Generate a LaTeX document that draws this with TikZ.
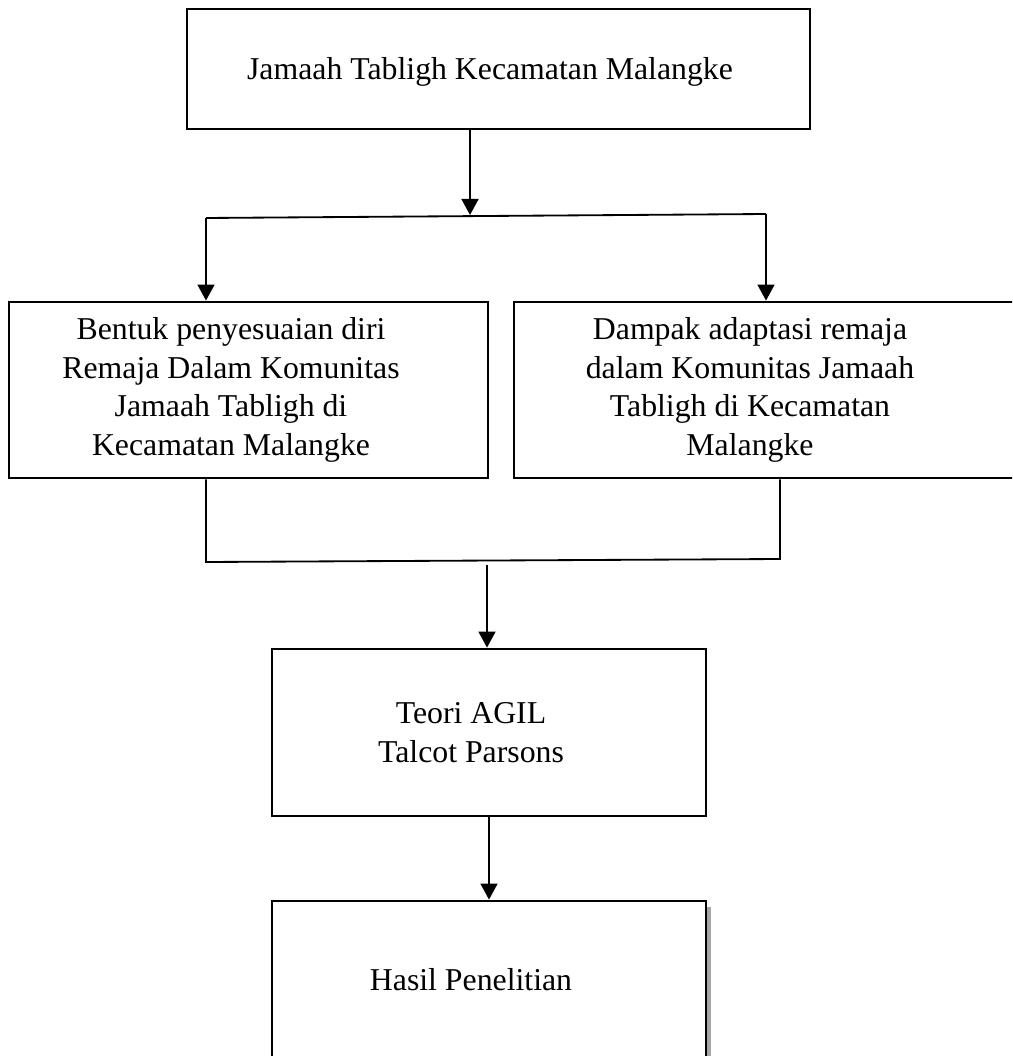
\documentclass[tikz,border=0pt]{standalone}
\usepackage{fontspec}
\setmainfont{Liberation Serif}
\usetikzlibrary{arrows.meta,shadows}

\begin{document}
\begin{tikzpicture}[x=0.025cm, y=-0.025cm,
    font=\fontsize{22.6}{27.5}\selectfont,
    box/.style={draw, line width=2pt, inner sep=0pt, fill=white},
    txt/.style={align=center},
    arr/.style={line width=1.6pt, -{Triangle[width=0.42cm, length=0.4cm]}},
    link/.style={line width=1.3pt}]
    % page of 1012 x 1056 px, 1px = 0.025cm
    \def\s{0.025cm}
    \useasboundingbox (0,0) rectangle (1012,1056);
    \clip (0,0) rectangle (1012,1056);

    % top box
    \node[box, minimum width=623*\s, minimum height=120*\s,
        label={[txt, xshift=-8.5*\s, yshift=-3*\s]center:Jamaah Tabligh Kecamatan Malangke}]
        (jamaah) at (498.5,69) {};

    % the two middle boxes
    \node[box, minimum width=479*\s, minimum height=176*\s,
        label={[txt, xshift=-17.5*\s]center:Bentuk penyesuaian diri\\Remaja Dalam Komunitas\\Jamaah Tabligh di\\Kecamatan Malangke}]
        (bentuk) at (248.5,390) {};
    \node[box, minimum width=520*\s, minimum height=176*\s,
        label={[txt, xshift=-24*\s]center:Dampak adaptasi remaja\\dalam Komunitas Jamaah\\Tabligh di Kecamatan\\Malangke}]
        (dampak) at (774,390) {};

    % theory and result
    \node[box, minimum width=434*\s, minimum height=167*\s,
        label={[txt, xshift=-18*\s]center:Teori AGIL\\Talcot Parsons}]
        (teori) at (489,732.5) {};
    \node[box, minimum width=434*\s, minimum height=169*\s,
        drop shadow={shadow xshift=5*\s, shadow yshift=-6*\s, fill=gray!70, opacity=1},
        label={[txt, xshift=-18*\s, yshift=5.5*\s]center:Hasil Penelitian}]
        (hasil) at (489,985.5) {};

    % junction points
    \coordinate (split) at (470,215);
    \coordinate (splitL) at (206,218);
    \coordinate (splitR) at (766,214);
    \coordinate (joinL) at (206,562);
    \coordinate (joinR) at (780,559);
    \coordinate (join) at (487,565);

    % connectors
    \draw[arr] (jamaah.south -| split) -- (split);
    \draw[link] (splitL) -- (splitR);
    \draw[arr] (splitL) -- (bentuk.north -| splitL);
    \draw[arr] (splitR) -- (dampak.north -| splitR);
    \draw[link] (bentuk.south -| joinL) -- (joinL) -- (joinR) -- (dampak.south -| joinR);
    \draw[arr] (join) -- (teori.north -| join);
    \draw[arr] (teori) -- (hasil);
\end{tikzpicture}
\end{document}
